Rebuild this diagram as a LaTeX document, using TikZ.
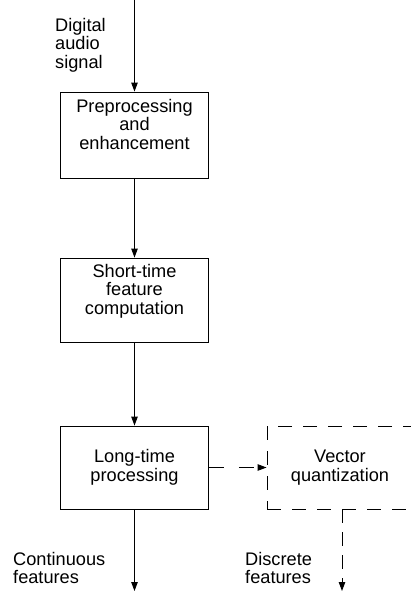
\documentclass[tikz,border=0pt]{standalone}
\usepackage{fontspec}
\setmainfont{Liberation Sans}
\usetikzlibrary{arrows.meta}
\begin{document}
\begin{tikzpicture}[x=1pt,y=-1pt,
  every node/.style={font=\fontsize{18.2}{18.5}\selectfont},
  block/.style={draw, line width=0.9pt, minimum width=148pt, inner sep=0pt},
  qblock/.style={draw, line width=0.9pt, dash pattern=on 14pt off 11pt, minimum width=146pt, inner sep=0pt},
  lbl/.style={inner sep=0pt, align=center},
  side/.style={inner sep=0pt, align=left},
  flow/.style={line width=0.9pt, -{Triangle[length=9pt,width=6.5pt]}},
  dflow/.style={flow, dash pattern=on 14pt off 9pt}]
\clip (0,0) rectangle (411,592);

% processing chain
\node[block, minimum height=86pt] (pre) at (134.5,135) {};
\node[lbl, anchor=north] (preT) at (134.5,99) {Preprocessing\\and\\enhancement};
\node[block, minimum height=84pt] (stf) at (134.5,300) {};
\node[lbl, anchor=north] (stfT) at (134.5,264) {Short-time\\feature\\computation};
\node[block, minimum height=83pt, align=center] (ltp) at (134.5,467.5) {Long-time\\processing};
\node[qblock, minimum height=83pt, align=center] (vq) at (340,467.5) {Vector\\quantization};

% side labels
\node[side, anchor=north west] (inT) at (55,18) {Digital\\audio\\signal};
\node[side, anchor=north west] (contT) at (13,552) {Continuous\\features};
\node[side, anchor=north west] (discT) at (245,552) {Discrete\\features};

% connectors
\coordinate (in) at (134.5,0);
\coordinate (cont) at (134.5,591);
\coordinate (disc) at (342,591);
\draw[flow] (in) -- (pre.north);
\draw[flow] (pre.south) -- (stf.north);
\draw[flow] (stf.south) -- (ltp.north);
\draw[flow] (ltp.south) -- (cont);
\draw[dflow, dash pattern=on 15pt off 15pt] (ltp.east) -- (vq.west);
\draw[dflow] (vq.south -| disc) -- (disc);
\end{tikzpicture}
\end{document}
